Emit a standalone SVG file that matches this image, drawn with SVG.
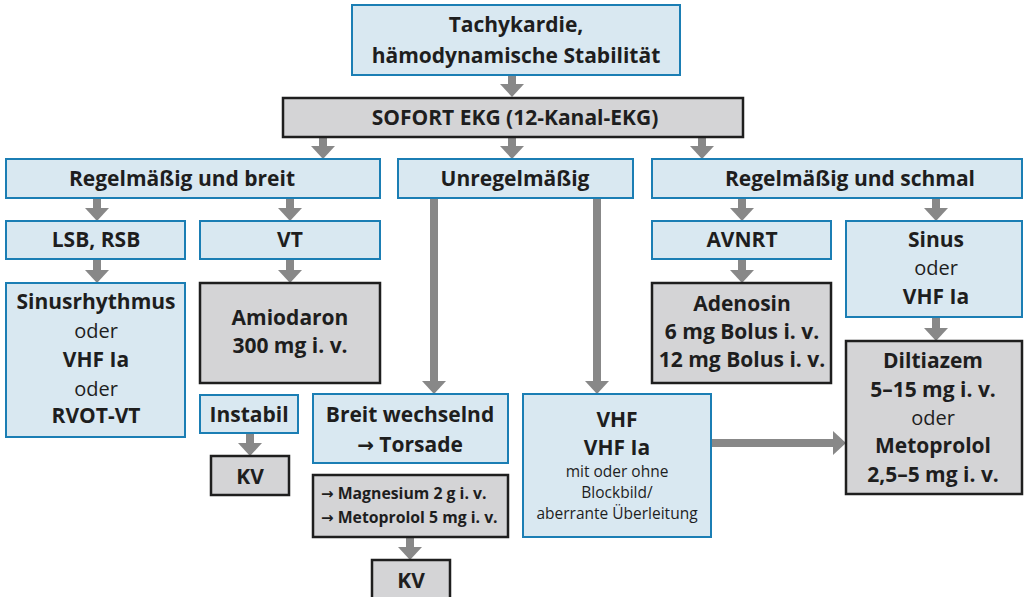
<svg xmlns="http://www.w3.org/2000/svg" width="1024" height="597" viewBox="0 0 1024 597">
<defs>
<style>
.b{fill:#d9e8f1;stroke:#1b7eb4;stroke-width:2}
.g{fill:#d4d4d6;stroke:#1e1e1e;stroke-width:2.5}
text{font-family:"Open Sans","Liberation Sans",sans-serif;fill:#1e1e1e;text-anchor:middle}
.t{font-size:21px;font-weight:700}
.r{font-size:20px;font-weight:400}
.s{font-size:15.8px;font-weight:700}
.sr{font-size:15.5px;font-weight:400}
.ar{font-family:"DejaVu Sans",sans-serif;font-weight:700}
.c line{stroke:#888;stroke-width:8;marker-end:url(#ah)}
</style>
<marker id="ah" viewBox="0 0 13 24" refX="0" refY="12" markerWidth="13" markerHeight="24" markerUnits="userSpaceOnUse" orient="auto">
<path d="M0,0 L13,12 L0,24 Z" fill="#888"/>
</marker>
</defs>
<rect width="1024" height="597" fill="#fff"/>
<g class="c" id="connectors">
<line x1="512" y1="75" x2="512" y2="84"/>
<line x1="323" y1="137" x2="323" y2="146"/>
<line x1="512" y1="137" x2="512" y2="146"/>
<line x1="702" y1="137" x2="702" y2="146"/>
<line x1="97" y1="198" x2="97" y2="208"/>
<line x1="290" y1="198" x2="290" y2="208"/>
<line x1="742" y1="198" x2="742" y2="208"/>
<line x1="936" y1="198" x2="936" y2="208"/>
<line x1="97" y1="259" x2="97" y2="270"/>
<line x1="290" y1="259" x2="290" y2="270"/>
<line x1="742" y1="259" x2="742" y2="270"/>
<line x1="936" y1="317" x2="936" y2="328"/>
<line x1="434" y1="198" x2="434" y2="381"/>
<line x1="597" y1="198" x2="597" y2="381"/>
<line x1="250" y1="433" x2="250" y2="443"/>
<line x1="410" y1="537" x2="410" y2="547"/>
<line x1="711" y1="443" x2="833" y2="443"/>
</g>
<g id="n1"><rect class="b" x="352" y="5" width="328" height="70"/><text class="t" x="516" y="32">Tachykardie,</text><text class="t" x="516" y="63">hämodynamische Stabilität</text></g>
<g id="n2"><rect class="g" x="283" y="98" width="460" height="39"/><text class="t" x="515" y="125">SOFORT EKG (12-Kanal-EKG)</text></g>
<g id="n3"><rect class="b" x="6" y="159" width="374" height="39"/><text class="t" x="182" y="186">Regelmäßig und breit</text></g>
<g id="n4"><rect class="b" x="398" y="159" width="235" height="39"/><text class="t" x="515" y="186">Unregelmäßig</text></g>
<g id="n5"><rect class="b" x="652" y="159" width="370" height="39"/><text class="t" x="850" y="186">Regelmäßig und schmal</text></g>
<g id="n6"><rect class="b" x="6" y="221" width="179" height="38"/><text class="t" x="96" y="247">LSB, RSB</text></g>
<g id="n7"><rect class="b" x="200" y="221" width="180" height="38"/><text class="t" x="290" y="247">VT</text></g>
<g id="n8"><rect class="b" x="652" y="221" width="179" height="38"/><text class="t" x="742" y="247">AVNRT</text></g>
<g id="n9"><rect class="b" x="846" y="221" width="176" height="96"/><text class="t" x="936" y="247">Sinus</text><text class="r" x="936" y="275">oder</text><text class="t" x="936" y="304">VHF Ia</text></g>
<g id="n10"><rect class="b" x="6" y="283" width="179" height="154"/><text class="t" x="96" y="309">Sinusrhythmus</text><text class="r" x="96" y="338">oder</text><text class="t" x="96" y="367">VHF Ia</text><text class="r" x="96" y="396">oder</text><text class="t" x="96" y="423">RVOT-VT</text></g>
<g id="n11"><rect class="g" x="200" y="283" width="180" height="100"/><text class="t" x="290" y="325">Amiodaron</text><text class="t" x="290" y="353">300 mg i. v.</text></g>
<g id="n12"><rect class="g" x="652" y="283" width="179" height="100"/><text class="t" x="742" y="311">Adenosin</text><text class="t" x="742" y="339">6 mg Bolus i. v.</text><text class="t" x="742" y="367">12 mg Bolus i. v.</text></g>
<g id="n13"><rect class="g" x="846" y="341" width="176" height="153"/><text class="t" x="933" y="368">Diltiazem</text><text class="t" x="933" y="397">5–15 mg i. v.</text><text class="r" x="933" y="425">oder</text><text class="t" x="933" y="453">Metoprolol</text><text class="t" x="933" y="482">2,5–5 mg i. v.</text></g>
<g id="n14"><rect class="b" x="200" y="395" width="98" height="38"/><text class="t" x="249" y="422">Instabil</text></g>
<g id="n15"><rect class="g" x="211" y="456" width="78" height="39"/><text class="t" x="250" y="484">KV</text></g>
<g id="n16"><rect class="b" x="313" y="394" width="195" height="69"/><text class="t" x="410" y="452"><tspan class="ar" font-size="20">→</tspan> Torsade</text><text class="t" x="410" y="422">Breit wechselnd</text></g>
<g id="n17"><rect class="g" x="313" y="475" width="195" height="62"/><text class="s" x="321" y="499" style="text-anchor:start"><tspan class="ar" font-size="15">→</tspan> Magnesium 2 g i. v.</text><text class="s" x="321" y="523" style="text-anchor:start"><tspan class="ar" font-size="15">→</tspan> Metoprolol 5 mg i. v.</text></g>
<g id="n18"><rect class="g" x="372" y="560" width="78" height="40"/><text class="t" x="411" y="588">KV</text></g>
<g id="n19"><rect class="b" x="523" y="394" width="188" height="143"/><text class="t" x="617" y="427">VHF</text><text class="t" x="617" y="455">VHF Ia</text><text class="sr" x="617" y="477">mit oder ohne</text><text class="sr" x="617" y="498">Blockbild/</text><text class="sr" x="617" y="519">aberrante Überleitung</text></g>
</svg>
